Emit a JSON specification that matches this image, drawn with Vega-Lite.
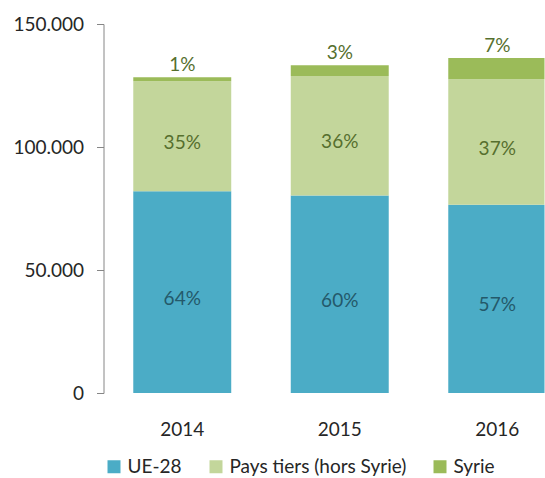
{
  "$schema": "https://vega.github.io/schema/vega-lite/v6.json",
  "width": 441,
  "height": 369,
  "autosize": {"type": "none"},
  "padding": {"left": 103.5, "top": 24, "right": 0, "bottom": 85},
  "background": "white",
  "config": {
    "view": {"stroke": null},
    "font": "Lato",
    "axis": {"labelFont": "Lato", "labelFontSize": 19, "labelColor": "#262626", "title": null, "grid": false},
    "legend": {"labelFont": "Lato", "labelFontSize": 19, "labelColor": "#262626"}
  },
  "data": {
    "values": [
      {"year": "2014", "series": "UE-28", "ord": 1, "value": 82000, "pct": "64%"},
      {"year": "2014", "series": "Pays tiers (hors Syrie)", "ord": 2, "value": 44700, "pct": "35%"},
      {"year": "2014", "series": "Syrie", "ord": 3, "value": 1650, "pct": "1%"},
      {"year": "2015", "series": "UE-28", "ord": 1, "value": 80250, "pct": "60%"},
      {"year": "2015", "series": "Pays tiers (hors Syrie)", "ord": 2, "value": 48600, "pct": "36%"},
      {"year": "2015", "series": "Syrie", "ord": 3, "value": 4350, "pct": "3%"},
      {"year": "2016", "series": "UE-28", "ord": 1, "value": 76500, "pct": "57%"},
      {"year": "2016", "series": "Pays tiers (hors Syrie)", "ord": 2, "value": 51000, "pct": "37%"},
      {"year": "2016", "series": "Syrie", "ord": 3, "value": 8700, "pct": "7%"}
    ]
  },
  "transform": [
    {"stack": "value", "groupby": ["year"], "sort": [{"field": "ord", "order": "ascending"}], "as": ["v0", "v1"]},
    {"calculate": "(datum.v0 + datum.v1) / 2", "as": "mid"}
  ],
  "encoding": {
    "x": {
      "field": "year",
      "type": "nominal",
      "scale": {"range": [0, 472.5], "paddingInner": 0.378, "paddingOuter": 0.189},
      "axis": {"labelAngle": 0, "domain": false, "ticks": false, "labelPadding": 27}
    }
  },
  "resolve": {"scale": {"y": "shared"}},
  "layer": [
    {
      "mark": {"type": "bar", "clip": true},
      "encoding": {
        "y": {
          "field": "v0",
          "type": "quantitative",
          "scale": {"domain": [0, 150000], "nice": false, "zero": true},
          "axis": {
            "values": [0, 50000, 100000, 150000],
            "labelExpr": "replace(format(datum.value, ','), ',', '.')",
            "domainColor": "#868686",
            "tickColor": "#868686",
            "tickSize": 7,
            "labelPadding": 13
          }
        },
        "y2": {"field": "v1"},
        "color": {
          "field": "series",
          "type": "nominal",
          "scale": {
            "domain": ["UE-28", "Pays tiers (hors Syrie)", "Syrie"],
            "range": ["#4BACC6", "#C3D69B", "#9BBB59"]
          },
          "legend": {
            "orient": "none",
            "direction": "horizontal",
            "legendX": 1,
            "legendY": 433,
            "title": null,
            "symbolType": "square",
            "symbolSize": 169,
            "symbolStrokeWidth": 0,
            "symbolOpacity": 1,
            "labelOffset": 4,
            "labelLimit": 400,
            "columnPadding": 24,
            "padding": 0
          }
        }
      }
    },
    {
      "transform": [{"filter": "datum.series !== 'Syrie'"}],
      "mark": {"type": "text", "baseline": "middle", "align": "center", "dy": 6.5, "fontSize": 19, "font": "Lato"},
      "encoding": {
        "y": {"field": "mid", "type": "quantitative", "scale": {"domain": [0, 150000], "nice": false, "zero": true}},
        "text": {"field": "pct"},
        "color": {
          "condition": {"test": "datum.series === 'UE-28'", "value": "#24596A"},
          "value": "#566F2E"
        }
      }
    },
    {
      "transform": [{"filter": "datum.series === 'Syrie'"}],
      "mark": {"type": "text", "baseline": "middle", "align": "center", "dy": -12, "fontSize": 19, "font": "Lato", "color": "#566F2E"},
      "encoding": {
        "y": {"field": "v1", "type": "quantitative", "scale": {"domain": [0, 150000], "nice": false, "zero": true}},
        "text": {"field": "pct"}
      }
    }
  ]
}
